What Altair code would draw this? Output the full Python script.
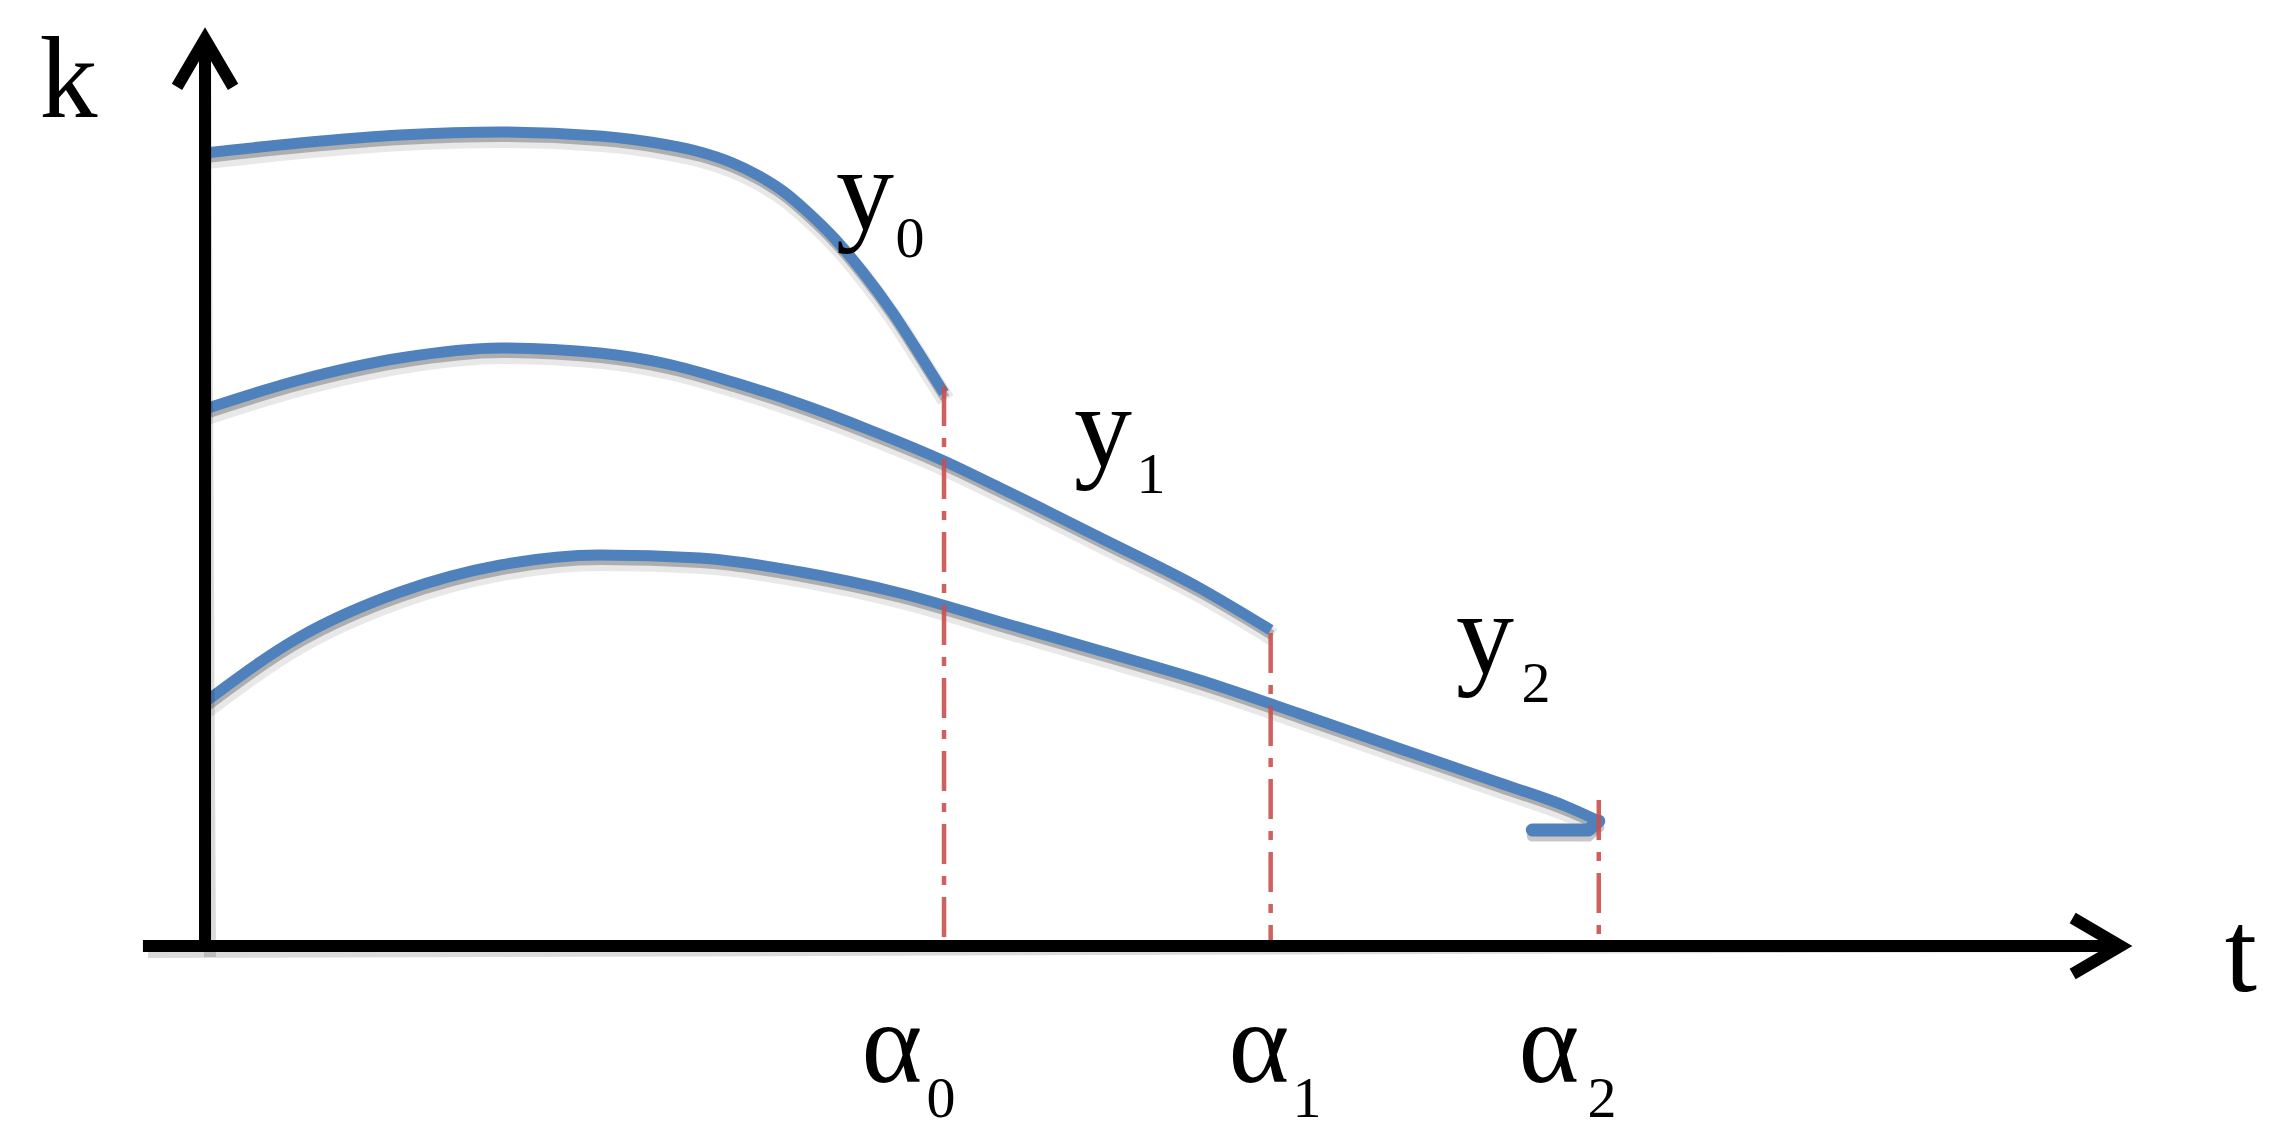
import altair as alt
import pandas as pd

# ---- data (t = time units, k = vertical units) ----
y0_t = [0.0, 0.64, 1.32, 2.0, 2.67, 3.13, 3.35, 3.57, 3.75, 3.91, 4.07, 4.25, 4.45, 4.65, 4.83, 5.0]
y0_k = [7.93, 8.03, 8.11, 8.14, 8.10, 8.01, 7.94, 7.83, 7.70, 7.55, 7.35, 7.09, 6.74, 6.34, 5.93, 5.53]

y1_t = [0.0, 0.64, 1.32, 2.0, 2.67, 3.13, 3.57, 4.03, 4.48, 5.0, 5.38, 6.06, 6.73, 7.21]
y1_k = [5.37, 5.66, 5.88, 5.98, 5.93, 5.82, 5.64, 5.42, 5.17, 4.85, 4.58, 4.08, 3.58, 3.16]

y2_t = [0.0, 0.64, 1.32, 2.0, 2.67, 3.35, 4.03, 4.70, 5.38, 6.06, 6.73, 7.41, 8.09, 8.76, 9.22, 9.43]
y2_k = [2.44, 3.09, 3.54, 3.81, 3.91, 3.88, 3.74, 3.53, 3.24, 2.95, 2.66, 2.32, 1.97, 1.63, 1.39, 1.25]

hook_t = [9.43, 9.36, 8.98]
hook_k = [1.25, 1.16, 1.16]

alpha_t = [5.0, 7.21, 9.43]
alpha_top = [5.6, 3.13, 1.46]

# axis extents
yaxis_t = [0.0, 0.0]
yaxis_k = [-0.05, 9.07]
xaxis_t = [-0.42, 12.96]
xaxis_k = [0.0, 0.0]

# arrowheads: (t, k, angle)
arrow_t = [0.0, 12.96]
arrow_k = [9.07, 0.0]
arrow_ang = [0, 90]

# labels
main_text = ["k", "t", "y", "y", "y", "α", "α", "α"]
main_t = [-0.924, 13.775, 4.466, 6.076, 8.660, 4.648, 7.131, 9.093]
main_k = [8.29, -0.45, 7.17, 4.80, 2.73, -1.36, -1.36, -1.36]
sub_text = ["0", "1", "2", "0", "1", "2"]
sub_t = [4.770, 6.400, 9.005, 4.980, 7.456, 9.452]
sub_k = [6.89, 4.53, 2.44, -1.71, -1.71, -1.71]

# ---- tables ----
rows = []
for name, ts, ks in [("y0", y0_t, y0_k), ("y1", y1_t, y1_k), ("y2", y2_t, y2_k)]:
    for i, (t, k) in enumerate(zip(ts, ks)):
        rows.append({"series": name, "order": i, "t": t, "k": k})
curves = pd.DataFrame(rows)
hook = pd.DataFrame({"order": list(range(len(hook_t))), "t": hook_t, "k": hook_k})
alphas = pd.DataFrame({"t": alpha_t, "top": alpha_top, "base": [0.0] * 3})
axes_df = pd.DataFrame({
    "t": [yaxis_t[0], xaxis_t[0]], "t2": [yaxis_t[1], xaxis_t[1]],
    "k": [yaxis_k[0], xaxis_k[0]], "k2": [yaxis_k[1], xaxis_k[1]],
})
arrows = pd.DataFrame({"t": arrow_t, "k": arrow_k, "ang": arrow_ang})
main_df = pd.DataFrame({"label": main_text, "t": main_t, "k": main_k})
sub_df = pd.DataFrame({"label": sub_text, "t": sub_t, "k": sub_k})

XS = alt.Scale(domain=[-1.333, 14.039], nice=False, zero=False)
YS = alt.Scale(domain=[-1.92, 9.38], nice=False, zero=False)


def X(f="t"):
    return alt.X(f"{f}:Q", scale=XS, axis=None)


def Y(f="k"):
    return alt.Y(f"{f}:Q", scale=YS, axis=None)


BLUE = "#4F81BD"

shadow_wide = alt.Chart(curves).mark_line(
    interpolate="monotone", color="#000000", opacity=0.09, strokeWidth=18, yOffset=7, xOffset=2
).encode(x=X(), y=Y(), detail="series:N", order="order:Q")
shadow = alt.Chart(curves).mark_line(
    interpolate="monotone", color="#000000", opacity=0.25, strokeWidth=10, yOffset=5, xOffset=1
).encode(x=X(), y=Y(), detail="series:N", order="order:Q")
lines = alt.Chart(curves).mark_line(
    interpolate="monotone", color=BLUE, strokeWidth=11
).encode(x=X(), y=Y(), detail="series:N", order="order:Q")
hook_shadow = alt.Chart(hook).mark_line(
    color="#000000", opacity=0.22, strokeWidth=11, yOffset=6, strokeCap="round"
).encode(x=X(), y=Y(), order="order:Q")
hook_line = alt.Chart(hook).mark_line(
    color=BLUE, strokeWidth=13, strokeCap="round", strokeJoin="round"
).encode(x=X(), y=Y(), order="order:Q")

red = alt.Chart(alphas).mark_rule(
    color="#C9504D", strokeWidth=4.5, opacity=0.9, strokeDash=[40, 12, 9, 12]
).encode(x=X(), y=Y("top"), y2="base:Q")

axis_shadow = alt.Chart(axes_df).mark_rule(
    color="#000000", strokeWidth=12, opacity=0.14, xOffset=5, yOffset=6
).encode(x=X(), x2="t2:Q", y=Y(), y2="k2:Q")
axis_lines = alt.Chart(axes_df).mark_rule(
    color="#000000", strokeWidth=12
).encode(x=X(), x2="t2:Q", y=Y(), y2="k2:Q")

arrow_heads = alt.Chart(arrows).mark_point(
    shape="M -0.85 1.45 L 0 0 L 0.85 1.45", filled=False, size=4356,
    strokeWidth=12, color="#000000", opacity=1, strokeJoin="miter"
).encode(x=X(), y=Y(), angle=alt.Angle("ang:Q", scale=None))

main_labels = alt.Chart(main_df).mark_text(
    font="Liberation Serif", fontSize=116, align="center", baseline="alphabetic", color="#000000"
).encode(x=X(), y=Y(), text="label:N")
sub_labels = alt.Chart(sub_df).mark_text(
    font="Liberation Serif", fontSize=58, align="center", baseline="alphabetic", color="#000000"
).encode(x=X(), y=Y(), text="label:N")

chart = alt.layer(
    shadow_wide, shadow, hook_shadow, lines, hook_line, red,
    axis_shadow, axis_lines, arrow_heads, main_labels, sub_labels
).properties(
    width=2272, height=1130, autosize=alt.AutoSizeParams(type="none"), padding=0
).configure_view(stroke=None)

chart.save("out.html", embed_options={"renderer": "svg", "actions": False})
